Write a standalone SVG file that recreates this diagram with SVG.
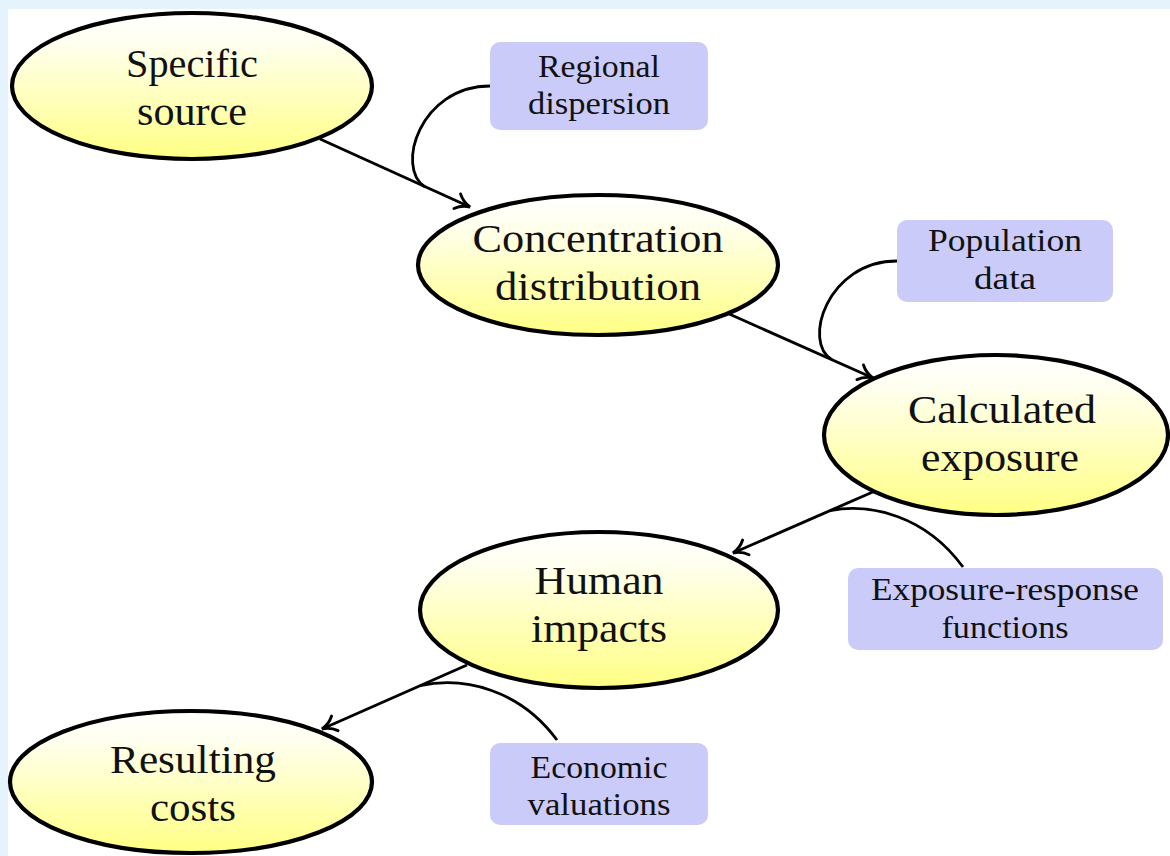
<svg xmlns="http://www.w3.org/2000/svg" width="1170" height="856" viewBox="0 0 1170 856">
  <style>
    .ell { stroke: #000; stroke-width: 4.2; fill: url(#yel); }
    .box { fill: #cbcbf9; stroke: none; }
    .et { font-family: "Liberation Serif", "DejaVu Serif", serif; font-size: 40px; fill: #111; text-anchor: middle; }
    .bt { font-family: "Liberation Serif", "DejaVu Serif", serif; font-size: 32px; fill: #111; text-anchor: middle; }
    .edge { fill: none; stroke: #000; stroke-width: 2.9; }
    .feed { fill: none; stroke: #000; stroke-width: 2.8; }
  </style>
  <defs>
    <linearGradient id="yel" x1="0" y1="0" x2="0" y2="1">
      <stop offset="0" stop-color="#ffffff"/>
      <stop offset="0.2" stop-color="#fffff0"/>
      <stop offset="1" stop-color="#ffff84"/>
    </linearGradient>
    <marker id="to" viewBox="-18 -11 22 22" refX="0" refY="0" markerWidth="22" markerHeight="22" markerUnits="userSpaceOnUse" orient="auto">
      <path d="M-14,-8 C-10,-3.5 -4.5,-0.9 0,0 C-4.5,0.9 -10,3.5 -14,8" fill="none" stroke="#000" stroke-width="2.9" stroke-linecap="round"/>
    </marker>
  </defs>

  <rect x="0" y="0" width="1170" height="856" fill="#e5f3fd"/>
  <rect x="8" y="9" width="1162" height="847" fill="#ffffff"/>

  <g id="connectors">
    <path class="edge" d="M320,139 L470,207" marker-end="url(#to)"/>
    <path class="feed" d="M490,86 C420,86 395,168 425,187"/>
    <path class="edge" d="M727,313 L873,378" marker-end="url(#to)"/>
    <path class="feed" d="M897,261 C827,261 802,343 832,359.6"/>
    <path class="edge" d="M875,491 L733,553" marker-end="url(#to)"/>
    <path class="feed" d="M963,567 C925,515 870,503 830,510.6"/>
    <path class="edge" d="M467,665 L322,729" marker-end="url(#to)"/>
    <path class="feed" d="M557,740 C520,690 465,676 420,685.7"/>
  </g>

  <g id="specific-source">
    <ellipse class="ell" cx="192" cy="86" rx="180" ry="73"/>
    <text class="et" x="192" y="77" textLength="132" lengthAdjust="spacingAndGlyphs">Specific</text>
    <text class="et" x="192" y="125" textLength="110" lengthAdjust="spacingAndGlyphs">source</text>
  </g>

  <g id="concentration-distribution">
    <ellipse class="ell" cx="598" cy="265" rx="180" ry="70"/>
    <text class="et" x="598" y="252" textLength="251" lengthAdjust="spacingAndGlyphs">Concentration</text>
    <text class="et" x="598" y="300" textLength="206" lengthAdjust="spacingAndGlyphs">distribution</text>
  </g>

  <g id="calculated-exposure">
    <ellipse class="ell" cx="996" cy="435" rx="172" ry="80"/>
    <text class="et" x="1002" y="423" textLength="188" lengthAdjust="spacingAndGlyphs">Calculated</text>
    <text class="et" x="1000" y="471" textLength="158" lengthAdjust="spacingAndGlyphs">exposure</text>
  </g>

  <g id="human-impacts">
    <ellipse class="ell" cx="599" cy="610" rx="179" ry="78"/>
    <text class="et" x="599" y="594" textLength="129" lengthAdjust="spacingAndGlyphs">Human</text>
    <text class="et" x="599" y="642" textLength="136" lengthAdjust="spacingAndGlyphs">impacts</text>
  </g>

  <g id="resulting-costs">
    <ellipse class="ell" cx="191" cy="782" rx="181" ry="71"/>
    <text class="et" x="193" y="773" textLength="166" lengthAdjust="spacingAndGlyphs">Resulting</text>
    <text class="et" x="193" y="821" textLength="86" lengthAdjust="spacingAndGlyphs">costs</text>
  </g>

  <g id="regional-dispersion">
    <rect class="box" x="490" y="42" width="218" height="88" rx="10"/>
    <text class="bt" x="599" y="77" textLength="122" lengthAdjust="spacingAndGlyphs">Regional</text>
    <text class="bt" x="599" y="114" textLength="142" lengthAdjust="spacingAndGlyphs">dispersion</text>
  </g>

  <g id="population-data">
    <rect class="box" x="897" y="220" width="216" height="82" rx="10"/>
    <text class="bt" x="1005" y="251" textLength="154" lengthAdjust="spacingAndGlyphs">Population</text>
    <text class="bt" x="1005" y="289" textLength="62" lengthAdjust="spacingAndGlyphs">data</text>
  </g>

  <g id="exposure-response-functions">
    <rect class="box" x="848" y="568" width="315" height="82" rx="10"/>
    <text class="bt" x="1005" y="600" textLength="268" lengthAdjust="spacingAndGlyphs">Exposure-response</text>
    <text class="bt" x="1005" y="638" textLength="127" lengthAdjust="spacingAndGlyphs">functions</text>
  </g>

  <g id="economic-valuations">
    <rect class="box" x="490" y="743" width="218" height="82" rx="10"/>
    <text class="bt" x="599" y="778" textLength="137" lengthAdjust="spacingAndGlyphs">Economic</text>
    <text class="bt" x="599" y="815" textLength="143" lengthAdjust="spacingAndGlyphs">valuations</text>
  </g>
</svg>
